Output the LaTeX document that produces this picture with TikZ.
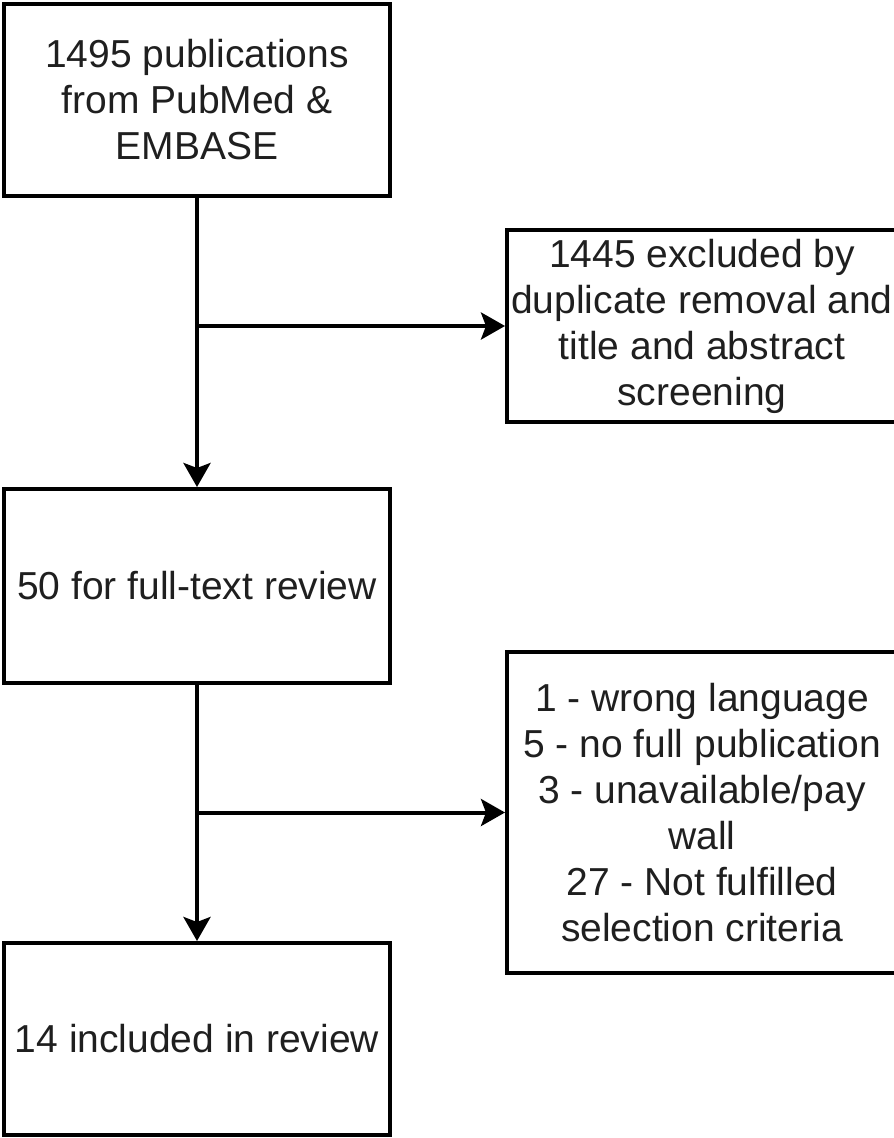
\documentclass[tikz,border=0pt]{standalone}
\usepackage{fontspec}
\setmainfont{Liberation Sans}
\usetikzlibrary{arrows.meta}
\tikzset{
  boxnode/.style={draw=black, line width=4pt, rectangle, inner sep=0pt, align=center,
    font=\fontsize{39pt}{46pt}\selectfont, text=black!88},
  flowarrow/.style={draw=black, line width=4pt, -{Stealth[length=24pt,width=27pt,inset=5pt]}},
  flowline/.style={draw=black, line width=4pt}
}
\begin{document}
\begin{tikzpicture}[x=1pt,y=-1pt]
\useasboundingbox (0,0) rectangle (894,1138);
\clip (0,0) rectangle (894,1138);
\node[boxnode, minimum width=386pt, minimum height=192pt] (b1) at (197,100)
  {1495 publications\\from PubMed \&\\EMBASE};
\node[boxnode, minimum width=390pt, minimum height=192pt] (r1) at (702,326)
  {1445 excluded by\\duplicate removal and\\title and abstract\\screening};
\node[boxnode, minimum width=386pt, minimum height=194pt] (b2) at (197,586)
  {50 for full-text review};
\node[boxnode, minimum width=390pt, minimum height=321pt] (r2) at (702,812.5)
  {1 - wrong language\\5 - no full publication\\3 - unavailable/pay\\wall\\27 - Not fulfilled\\selection criteria};
\node[boxnode, minimum width=386pt, minimum height=192pt] (b3) at (197,1039)
  {14 included in review};
\coordinate (j1) at (b1.south |- r1.west);
\coordinate (j2) at (b2.south |- r2.west);
\draw[flowarrow] (b1.south) -- (b2.north);
\draw[flowarrow] (j1) -- (r1.west);
\draw[flowarrow] (b2.south) -- (b3.north);
\draw[flowarrow] (j2) -- (r2.west);
\end{tikzpicture}
\end{document}
